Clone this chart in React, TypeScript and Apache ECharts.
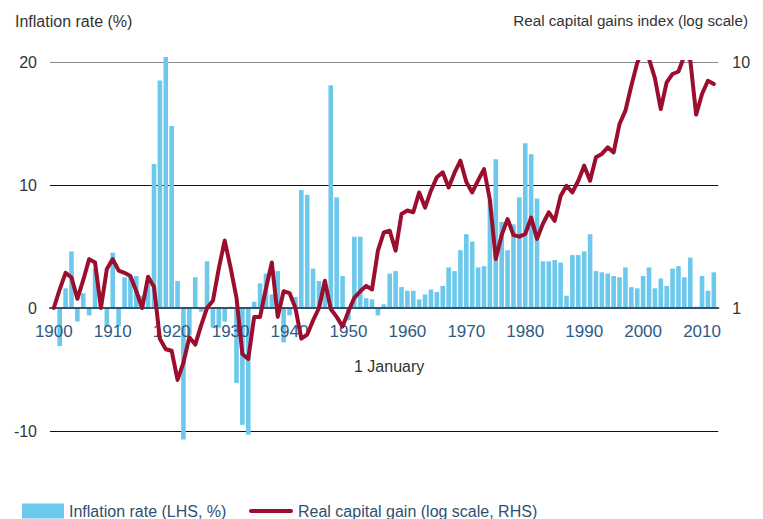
import React, { useEffect, useRef } from "react";
import * as echarts from "echarts";

const INFLATION_FIRST_YEAR = 1900;
// Annual inflation rate (%), 1900..2011
const inflation = [
  -3.1, 1.6, 4.6, -1.1, 1.2, -0.6, 3.2, 0.0, -1.5, 4.5,
  -1.5, 2.5, 2.6, 2.6, 1.0, 2.0, 11.7, 18.5, 20.4, 14.8,
  2.2, -10.7, -2.2, 2.5, -0.3, 3.8, -1.6, -1.6, -1.1, 0.1,
  -6.1, -9.5, -10.3, 0.5, 2.0, 2.8, 1.1, 3.0, -2.8, -0.6,
  0.9, 9.6, 9.2, 3.2, 2.2, 2.2, 18.1, 9.0, 2.6, -1.0,
  5.8, 5.8, 0.8, 0.7, -0.6, 0.3, 2.8, 3.0, 1.7, 1.4,
  1.4, 0.7, 1.1, 1.5, 1.3, 1.8, 3.3, 3.0, 4.7, 6.0,
  5.4, 3.3, 3.4, 8.7, 12.1, 7.0, 4.7, 6.8, 9.0, 13.4,
  12.5, 8.9, 3.8, 3.8, 3.9, 3.7, 1.0, 4.3, 4.3, 4.6,
  6.0, 3.0, 2.9, 2.8, 2.6, 2.5, 3.3, 1.7, 1.6, 2.6,
  3.3, 1.6, 2.4, 1.8, 3.2, 3.4, 2.5, 4.1, 0.1, 2.6,
  1.4, 2.9,
];

const INDEX_FIRST_YEAR = 1900;
// Real capital gains index at 1 January, 1900..2012 (1900 = 1)
const realIndex = [
  1.0, 1.19, 1.39, 1.33, 1.09, 1.3, 1.58, 1.53, 1.0, 1.44,
  1.58, 1.42, 1.39, 1.35, 1.17, 1.0, 1.34, 1.22, 0.75, 0.68,
  0.67, 0.51, 0.6, 0.76, 0.71, 0.85, 1.0, 1.07, 1.45, 1.88,
  1.46, 1.1, 0.65, 0.62, 0.92, 0.92, 1.2, 1.53, 0.92, 1.17,
  1.15, 1.0, 0.75, 0.78, 0.89, 1.0, 1.29, 0.99, 0.92, 0.84,
  0.97, 1.1, 1.17, 1.23, 1.19, 1.71, 2.03, 2.06, 1.71, 2.41,
  2.49, 2.45, 2.95, 2.56, 3.0, 3.4, 3.56, 3.09, 3.55, 3.97,
  3.25, 2.95, 3.3, 3.67, 2.75, 1.58, 1.98, 2.3, 1.98, 1.95,
  2.0, 2.33, 1.91, 2.2, 2.45, 2.26, 2.85, 3.14, 2.95, 3.29,
  3.79, 3.29, 4.1, 4.23, 4.5, 4.29, 5.6, 6.34, 8.01, 9.9,
  11.5, 10.3, 8.6, 6.44, 8.26, 8.94, 9.15, 10.6, 10.2, 6.11,
  7.41, 8.39, 8.14,
];

const xTickYears = [1900, 1910, 1920, 1930, 1940, 1950, 1960, 1970, 1980, 1990, 2000, 2010];
const leftTicks = { min: -10, max: 20, interval: 10 };
const rightTicks = { min: Math.pow(10, -0.5), max: 10, shown: [1, 10] };

const FONT = "'Liberation Sans', Arial, sans-serif";
const BAR_NAME = "Inflation rate (LHS, %)";
const LINE_NAME = "Real capital gain (log scale, RHS)";

export default function App() {
  const ref = useRef<HTMLDivElement>(null);
  useEffect(() => {
    document.body.style.margin = "0";
    if (!ref.current) return;
    const chart = echarts.init(ref.current, undefined, { renderer: "svg" });
    // inflation over a year is plotted at the year's end
    const barData = inflation.map((v, i) => [INFLATION_FIRST_YEAR + i + 1, v]);
    const lineData = realIndex.map((v, i) => [INDEX_FIRST_YEAR + i, v]);
    chart.setOption({
      animation: false,
      textStyle: { fontFamily: FONT },
      title: [
        {
          text: "Inflation rate (%)",
          left: 10,
          top: 8,
          textStyle: { fontSize: 16, fontWeight: "normal", color: "#333", fontFamily: FONT },
        },
        {
          text: "Real capital gains index (log scale)",
          right: 10,
          top: 8,
          textStyle: { fontSize: 15.2, fontWeight: "normal", color: "#333", fontFamily: FONT },
        },
      ],
      grid: { left: 50, right: 44.7, top: 62, bottom: 88, containLabel: false },
      legend: [
        {
          left: 22,
          top: 503,
          padding: 0,
          itemWidth: 42,
          itemHeight: 15,
          textStyle: { fontSize: 16, color: "#2F4F6E", fontFamily: FONT },
          data: [{ name: BAR_NAME, icon: "rect" }],
        },
        {
          left: 249,
          top: 503,
          padding: 0,
          itemWidth: 44,
          itemHeight: 4,
          textStyle: { fontSize: 16, color: "#2F4F6E", fontFamily: FONT },
          data: [
            {
              name: LINE_NAME,
              icon: "path://M2,0H42A2,2,0,0,1,42,4H2A2,2,0,0,1,2,0Z",
              itemStyle: { color: "#9B0E2E" },
            },
          ],
        },
      ],
      xAxis: {
        type: "value",
        min: 1899.355,
        max: 2012.76,
        z: 10,
        name: "1 January",
        nameLocation: "middle",
        nameGap: 50,
        nameTextStyle: { fontSize: 16, color: "#333", padding: [0, 0, 0, 10], fontFamily: FONT },
        offset: -123,
        axisLine: { onZero: false, lineStyle: { color: "#33506E", width: 2 } },
        axisTick: { show: false },
        splitLine: { show: false },
        axisLabel: {
          customValues: xTickYears,
          formatter: (v: number) => String(Math.round(v)),
          fontSize: 17,
          color: "#2D5B86",
          margin: 15,
          fontFamily: FONT,
        },
      },
      yAxis: [
        {
          type: "value",
          min: leftTicks.min,
          max: leftTicks.max,
          interval: leftTicks.interval,
          axisLine: { show: false },
          axisTick: { show: false },
          axisLabel: { fontSize: 16, color: "#333", margin: 13, fontFamily: FONT },
          splitLine: {
            show: true,
            lineStyle: { color: ["#111", "#111", "#111", "#8a8a8a"], width: 1 },
          },
        },
        {
          type: "log",
          logBase: 10,
          min: rightTicks.min,
          max: rightTicks.max,
          position: "right",
          axisLine: { show: false },
          axisTick: { show: false },
          splitLine: { show: false },
          axisLabel: {
            fontSize: 16,
            color: "#333",
            margin: 14,
            fontFamily: FONT,
            formatter: (v: number) => {
              for (const s of rightTicks.shown) {
                if (Math.abs(v - s) < 1e-6 * s) return String(s);
              }
              return "";
            },
          },
        },
      ],
      series: [
        {
          name: BAR_NAME,
          type: "bar",
          xAxisIndex: 0,
          yAxisIndex: 0,
          barWidth: 4.6,
          clip: false,
          itemStyle: { color: "#6DC9EC" },
          data: barData,
          z: 2,
        },
        {
          name: LINE_NAME,
          type: "line",
          xAxisIndex: 0,
          yAxisIndex: 1,
          symbol: "none",
          showSymbol: false,
          clip: true,
          lineStyle: { color: "#9B0E2E", width: 4, join: "round", cap: "round" },
          itemStyle: { color: "#9B0E2E" },
          data: lineData,
          z: 12,
        },
      ],
    });
    return () => chart.dispose();
  }, []);
  return <div ref={ref} style={{ width: 763, height: 519 }} />;
}
